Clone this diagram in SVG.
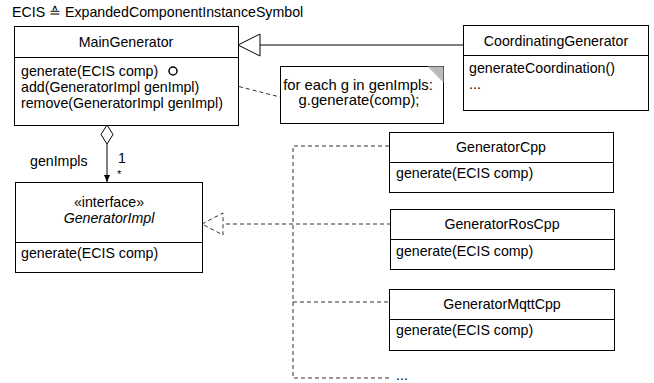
<svg xmlns="http://www.w3.org/2000/svg" width="654" height="383" viewBox="0 0 654 383">
<defs>
<style>
text{font-family:"Liberation Sans",Arial,sans-serif;font-size:14.2px;fill:#000}
.box{fill:#fff;stroke:#000;stroke-width:1}
.sep{stroke:#000;stroke-width:1}
.c{text-anchor:middle}
.dash{fill:none;stroke:#333;stroke-width:1;stroke-dasharray:4 3}
.solid{fill:none;stroke:#000;stroke-width:1}
.note{font-size:14.8px}
</style>
<marker id="arr" markerWidth="8" markerHeight="8" refX="7" refY="4" orient="auto" markerUnits="userSpaceOnUse">
<path d="M0,1 L7,4 L0,7 Z" fill="#000"/>
</marker>
</defs>
<text x="12" y="17">ECIS ≙ ExpandedComponentInstanceSymbol</text>

<g id="connectors">
<path class="solid" d="M463,45 L260,45"/>
<path d="M238,45 L260,34 L260,56 Z" fill="#fff" stroke="#000"/>
<path class="dash" d="M178,71 L280,97"/>
<path class="solid" d="M107,144 L107,182" marker-end="url(#arr)"/>
<path d="M107,125 L113,134.5 L107,144 L101,134.5 Z" fill="#fff" stroke="#000"/>
<path class="dash" d="M391,224 L223,224"/>
<path d="M202,224 L223,213 L223,235 Z" fill="#fff" stroke="#333" stroke-dasharray="4 3"/>
<path class="dash" d="M389,146 L293,146 L293,378 L390,378"/>
<path class="dash" d="M293,302 L389,302"/>
<text x="30" y="166">genImpls</text>
<text x="118" y="163">1</text>
<text x="117" y="178" style="font-size:11px">*</text>
<text x="396" y="380">...</text>
</g>

<g id="MainGenerator">
<rect class="box" x="14.5" y="26.5" width="224" height="99"/>
<line class="sep" x1="14.5" y1="57.5" x2="238.5" y2="57.5"/>
<text class="c" x="126" y="47">MainGenerator</text>
<text x="21" y="76">generate(ECIS comp)</text>
<text x="21" y="92">add(GeneratorImpl genImpl)</text>
<text x="21" y="108">remove(GeneratorImpl genImpl)</text>
<circle cx="173" cy="71" r="4" fill="none" stroke="#000" stroke-width="1.5"/>
</g>

<g id="CoordinatingGenerator">
<rect class="box" x="463.5" y="25.5" width="185" height="85"/>
<line class="sep" x1="463.5" y1="55.5" x2="648.5" y2="55.5"/>
<text class="c" x="556" y="46">CoordinatingGenerator</text>
<text x="469" y="73">generateCoordination()</text>
<text x="469" y="89">...</text>
</g>

<g id="note">
<rect x="280.5" y="66.5" width="163" height="57" fill="#fff" stroke="#000"/>
<path d="M427.5,66.5 L443.5,66.5 L443.5,82.5 Z" fill="#bbb"/>
<text class="c note" x="358" y="90">for each g in genImpls:</text>
<text class="c note" x="359" y="105">g.generate(comp);</text>
</g>

<g id="GeneratorImpl">
<rect class="box" x="15.5" y="182.5" width="187" height="90"/>
<line class="sep" x1="15.5" y1="242.5" x2="202.5" y2="242.5"/>
<text class="c" x="109" y="207">«interface»</text>
<text class="c" x="109" y="223" font-style="italic">GeneratorImpl</text>
<text x="21" y="258">generate(ECIS comp)</text>
</g>

<g id="GeneratorCpp">
<rect class="box" x="389.5" y="132.5" width="224" height="60"/>
<line class="sep" x1="389.5" y1="162.5" x2="613.5" y2="162.5"/>
<text class="c" x="501" y="152">GeneratorCpp</text>
<text x="396" y="178">generate(ECIS comp)</text>
</g>

<g id="GeneratorRosCpp">
<rect class="box" x="390.5" y="209.5" width="224" height="60"/>
<line class="sep" x1="390.5" y1="239.5" x2="614.5" y2="239.5"/>
<text class="c" x="502" y="229">GeneratorRosCpp</text>
<text x="396" y="256">generate(ECIS comp)</text>
</g>

<g id="GeneratorMqttCpp">
<rect class="box" x="389.5" y="289.5" width="225" height="61"/>
<line class="sep" x1="389.5" y1="319.5" x2="614.5" y2="319.5"/>
<text class="c" x="502" y="309">GeneratorMqttCpp</text>
<text x="396" y="335">generate(ECIS comp)</text>
</g>
</svg>
